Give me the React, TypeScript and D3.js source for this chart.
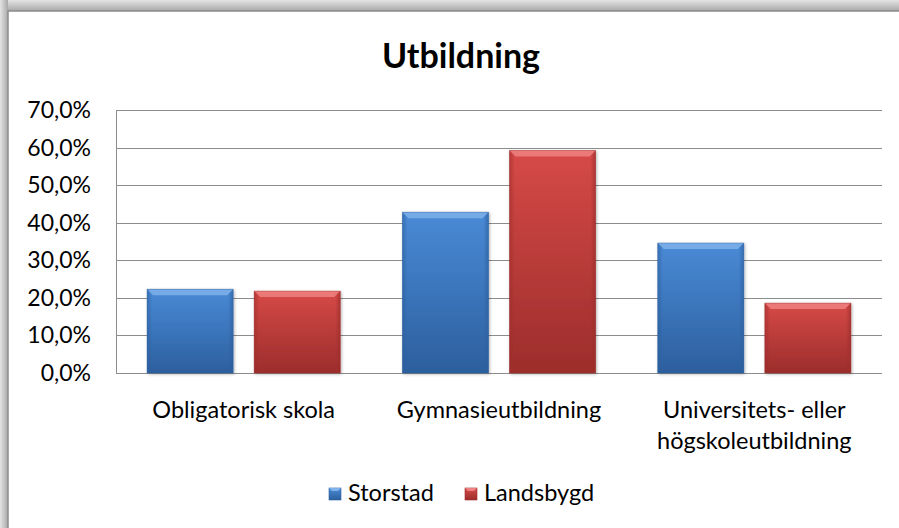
import React, { useEffect, useRef } from 'react';
import * as d3 from 'd3';

const categories = ['Obligatorisk skola', 'Gymnasieutbildning', 'Universitets- eller\nhögskoleutbildning'];
const seriesNames = ['Storstad', 'Landsbygd'];
const storstad = [0.223, 0.428, 0.346];
const landsbygd = [0.218, 0.592, 0.186];
const yTicks = [0, 0.1, 0.2, 0.3, 0.4, 0.5, 0.6, 0.7];

const W = 899;
const H = 528;
const FONT = 'Lato, Carlito, Calibri, sans-serif';

export default function App() {
  const ref = useRef<SVGSVGElement>(null);

  useEffect(() => {
    const svg = d3.select(ref.current);
    svg.selectAll('*').remove();

    const defs = svg.append('defs');
    // frame shadow gradients
    const top = defs.append('linearGradient').attr('id', 'shTop').attr('x1', 0).attr('x2', 0).attr('y1', 0).attr('y2', 1);
    top.append('stop').attr('offset', '0%').attr('stop-color', '#e4e4e4');
    top.append('stop').attr('offset', '100%').attr('stop-color', '#a8a8a8');
    const left = defs.append('linearGradient').attr('id', 'shLeft').attr('x1', 0).attr('x2', 1).attr('y1', 0).attr('y2', 0);
    left.append('stop').attr('offset', '0%').attr('stop-color', '#e4e4e4');
    left.append('stop').attr('offset', '100%').attr('stop-color', '#a8a8a8');

    // bar gradients
    const barColors = [
      { id: 'blue', light: '#4a8ad6', mid: '#3b7cc9', dark: '#2c5f9e', bevel: '#7fb2ea' },
      { id: 'red', light: '#d64a48', mid: '#c83f3d', dark: '#9c2d2b', bevel: '#ee8180' },
    ];
    barColors.forEach(c => {
      const g = defs.append('linearGradient').attr('id', 'g-' + c.id).attr('x1', 0).attr('x2', 0).attr('y1', 0).attr('y2', 1);
      g.append('stop').attr('offset', '0%').attr('stop-color', c.light);
      g.append('stop').attr('offset', '100%').attr('stop-color', c.dark);
      const e = defs.append('linearGradient').attr('id', 'e-' + c.id).attr('x1', 0).attr('x2', 1).attr('y1', 0).attr('y2', 0);
      e.append('stop').attr('offset', '0%').attr('stop-color', c.dark).attr('stop-opacity', 0.6);
      e.append('stop').attr('offset', '6%').attr('stop-color', c.dark).attr('stop-opacity', 0);
      e.append('stop').attr('offset', '94%').attr('stop-color', c.dark).attr('stop-opacity', 0);
      e.append('stop').attr('offset', '100%').attr('stop-color', c.dark).attr('stop-opacity', 0.7);
    });
    const shadow = defs.append('filter').attr('id', 'barShadow').attr('x', '-20%').attr('y', '-20%').attr('width', '140%').attr('height', '140%');
    shadow.append('feDropShadow').attr('dx', 1).attr('dy', 1).attr('stdDeviation', 1.5).attr('flood-color', '#000').attr('flood-opacity', 0.3);

    // frame
    svg.append('rect').attr('x', 0).attr('y', 0).attr('width', W).attr('height', 11).attr('fill', 'url(#shTop)');
    svg.append('rect').attr('x', 0).attr('y', 0).attr('width', 8).attr('height', H).attr('fill', 'url(#shLeft)');
    svg.append('rect').attr('x', 8).attr('y', 11).attr('width', W).attr('height', H).attr('fill', '#fff')
      .attr('stroke', '#8c8c8c').attr('stroke-width', 1.5);

    const m = { left: 116, right: 882, top: 110, bottom: 373 };
    const x = d3.scaleBand<string>().domain(categories).range([m.left, m.right]).paddingInner(0).paddingOuter(0);
    const xs = d3.scaleBand<string>().domain(seriesNames).range([0, x.bandwidth()]).paddingInner(0.196).paddingOuter(0.29);
    const y = d3.scaleLinear().domain([0, 0.7]).range([m.bottom, m.top]);

    // gridlines
    svg.append('g').selectAll('line').data(yTicks).join('line')
      .attr('x1', m.left).attr('x2', m.right)
      .attr('y1', d => Math.round(y(d)) + 0.5).attr('y2', d => Math.round(y(d)) + 0.5)
      .attr('stroke', '#8c8c8c').attr('stroke-width', 1);
    svg.append('line').attr('x1', m.left + 0.5).attr('x2', m.left + 0.5).attr('y1', m.top).attr('y2', m.bottom)
      .attr('stroke', '#8c8c8c');

    const fmt = (v: number) => (v * 100).toFixed(1).replace('.', ',') + '%';
    svg.append('g').selectAll('text').data(yTicks).join('text')
      .attr('x', 91).attr('y', d => y(d)).attr('dy', '0.35em').attr('text-anchor', 'end')
      .attr('font-family', FONT).attr('font-size', 23).attr('fill', '#000').text(d => fmt(d));

    // bars
    const series = [storstad, landsbygd];
    series.forEach((vals, si) => {
      const c = barColors[si];
      const g = svg.append('g');
      categories.forEach((cat, ci) => {
        const bx = (x(cat) as number) + (xs(seriesNames[si]) as number);
        const bw = xs.bandwidth();
        const by = y(vals[ci]);
        const bh = m.bottom - by;
        const bar = g.append('g').attr('filter', 'url(#barShadow)');
        bar.append('rect').attr('x', bx).attr('y', by).attr('width', bw).attr('height', bh).attr('fill', `url(#g-${c.id})`);
        bar.append('rect').attr('x', bx).attr('y', by).attr('width', bw).attr('height', bh).attr('fill', `url(#e-${c.id})`);
        const bv = 6;
        bar.append('path')
          .attr('d', `M${bx},${by}L${bx + bw},${by}L${bx + bw - bv},${by + bv}L${bx + bv},${by + bv}Z`)
          .attr('fill', c.bevel).attr('opacity', 0.85);
        bar.append('rect').attr('x', bx).attr('y', by).attr('width', bw).attr('height', bh)
          .attr('fill', 'none').attr('stroke', c.dark).attr('stroke-opacity', 0.5).attr('stroke-width', 0.8);
      });
    });

    // category labels
    svg.append('g').selectAll('text').data(categories).join('text')
      .attr('x', d => (x(d) as number) + x.bandwidth() / 2).attr('y', 418)
      .attr('text-anchor', 'middle').attr('font-family', FONT).attr('font-size', 23.5).attr('fill', '#000')
      .each(function (d) {
        const t = d3.select(this);
        d.split('\n').forEach((line, i) => {
          t.append('tspan').attr('x', (x(d) as number) + x.bandwidth() / 2).attr('dy', i === 0 ? 0 : 31).text(line);
        });
      });

    // title
    svg.append('text').attr('x', 461).attr('y', 68).attr('text-anchor', 'middle')
      .attr('font-family', FONT).attr('font-size', 34).attr('font-weight', 'bold').attr('fill', '#000').text('Utbildning');

    // legend
    const legendX = [329, 465];
    seriesNames.forEach((name, i) => {
      const c = barColors[i];
      const lx = legendX[i];
      svg.append('rect').attr('x', lx).attr('y', 488).attr('width', 12).attr('height', 12).attr('fill', `url(#g-${c.id})`)
        .attr('stroke', c.dark).attr('stroke-width', 0.6);
      svg.append('path').attr('d', `M${lx},488L${lx + 12},488L${lx + 9},491L${lx + 3},491Z`).attr('fill', c.bevel);
      svg.append('text').attr('x', lx + 19).attr('y', 501).attr('font-family', FONT).attr('font-size', 23.5)
        .attr('fill', '#000').text(name);
    });
  }, []);

  return (
    <svg ref={ref} width={W} height={H} style={{ position: 'absolute', left: 0, top: 0, background: '#fff' }} />
  );
}
